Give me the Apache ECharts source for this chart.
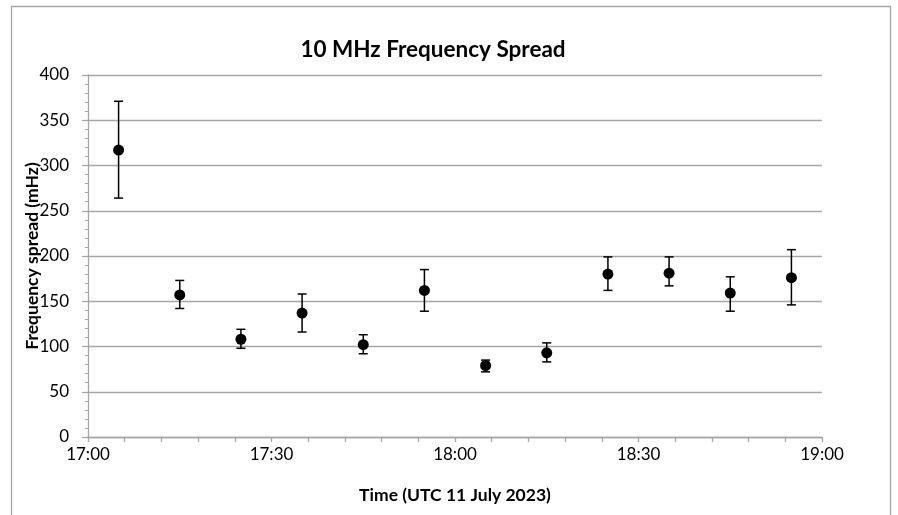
<!DOCTYPE html>
<html>
<head>
<meta charset="utf-8">
<script src="https://cdn.jsdelivr.net/npm/echarts@6/dist/echarts.min.js"></script>
<style>
html,body{margin:0;padding:0;background:#fff;}
#chart{width:898px;height:515px;}
</style>
</head>
<body>
<div id="chart"></div>
<script>
var times = ['17:05','17:15','17:25','17:35','17:45','17:55','18:05','18:15','18:25','18:35','18:45','18:55'];
var spread = [317, 157, 108, 137, 102, 162, 79, 93, 180, 181, 159, 176];
var errLow = [264, 142, 98, 116, 92, 139, 72, 83, 162, 167, 139, 146];
var errHigh = [371, 173, 119, 158, 113, 185, 85, 104, 199, 199, 177, 207];
var xTickLabels = ['17:00','17:30','18:00','18:30','19:00'];
var yTicks = [0, 50, 100, 150, 200, 250, 300, 350, 400];

function toMin(t){ var p = t.split(':'); return (+p[0] - 17) * 60 + (+p[1]); }
function fromMin(m){ var h = 17 + Math.floor(m / 60); var mm = m % 60; return h + ':' + (mm < 10 ? '0' : '') + mm; }

var FONT = 'Lato, "Open Sans", sans-serif';
var pts = times.map(function(t, i){ return [toMin(t), spread[i]]; });
var bars = times.map(function(t, i){ return [toMin(t), errLow[i], errHigh[i]]; });

var chart = echarts.init(document.getElementById('chart'));
chart.setOption({
  animation: false,
  backgroundColor: '#ffffff',
  graphic: [{
    type: 'rect', shape: {x: 11.5, y: 6.5, width: 879, height: 530},
    style: {fill: 'none', stroke: '#a6a6a6', lineWidth: 1.3}, silent: true, z: -10
  }],
  title: {
    text: '10 MHz Frequency Spread',
    left: 428, top: 33, textAlign: 'center',
    textStyle: {fontFamily: FONT, fontWeight: 'bold', fontSize: 22.5, color: '#000'}
  },
  grid: {left: 88, top: 75, width: 734, height: 362},
  xAxis: {
    type: 'value', min: 0, max: 120, interval: 6,
    name: 'Time (UTC 11 July 2023)', nameLocation: 'middle', nameGap: 49, nameMoveOverlap: false,
    nameTextStyle: {fontFamily: FONT, fontWeight: 'bold', fontSize: 17.5, color: '#000'},
    axisLine: {show: true, lineStyle: {color: '#a6a6a6', width: 1.3}},
    axisTick: {show: true, length: 5, lineStyle: {color: '#a6a6a6', width: 1.3}},
    splitLine: {show: false},
    axisLabel: {
      margin: 9, fontFamily: FONT, fontSize: 17, color: '#000',
      formatter: function(v){ var s = fromMin(v); return xTickLabels.indexOf(s) >= 0 ? s : ''; }
    }
  },
  yAxis: {
    type: 'value', min: 0, max: 400, interval: 50,
    name: 'Frequency spread (mHz)', nameLocation: 'middle', nameGap: 47, nameMoveOverlap: false,
    nameTextStyle: {fontFamily: FONT, fontWeight: 'bold', fontSize: 17.5, color: '#000'},
    axisLine: {show: true, lineStyle: {color: '#a6a6a6', width: 1.3}},
    axisTick: {show: true, length: 6, lineStyle: {color: '#a6a6a6', width: 1.3}},
    minorTick: {show: true, splitNumber: 5, length: 3, lineStyle: {color: '#a6a6a6', width: 1}},
    splitLine: {show: true, lineStyle: {color: '#a6a6a6', width: 1.3}},
    axisLabel: {
      margin: 19, fontFamily: FONT, fontSize: 17, color: '#000',
      formatter: function(v){ return yTicks.indexOf(v) >= 0 ? String(v) : ''; }
    }
  },
  series: [{
    type: 'custom',
    data: bars,
    z: 3,
    renderItem: function(params, api){
      var x = api.value(0);
      var lo = api.coord([x, api.value(1)]);
      var hi = api.coord([x, api.value(2)]);
      var hw = 4.5;
      var st = {stroke: '#000', lineWidth: 1.5};
      return {
        type: 'group',
        children: [
          {type: 'line', shape: {x1: lo[0], y1: lo[1], x2: hi[0], y2: hi[1]}, style: st},
          {type: 'line', shape: {x1: lo[0] - hw, y1: lo[1], x2: lo[0] + hw, y2: lo[1]}, style: st},
          {type: 'line', shape: {x1: hi[0] - hw, y1: hi[1], x2: hi[0] + hw, y2: hi[1]}, style: st}
        ]
      };
    }
  }, {
    type: 'scatter',
    data: pts,
    symbol: 'circle',
    symbolSize: 11,
    itemStyle: {color: '#000', opacity: 1},
    z: 5
  }]
});
</script>
</body>
</html>
